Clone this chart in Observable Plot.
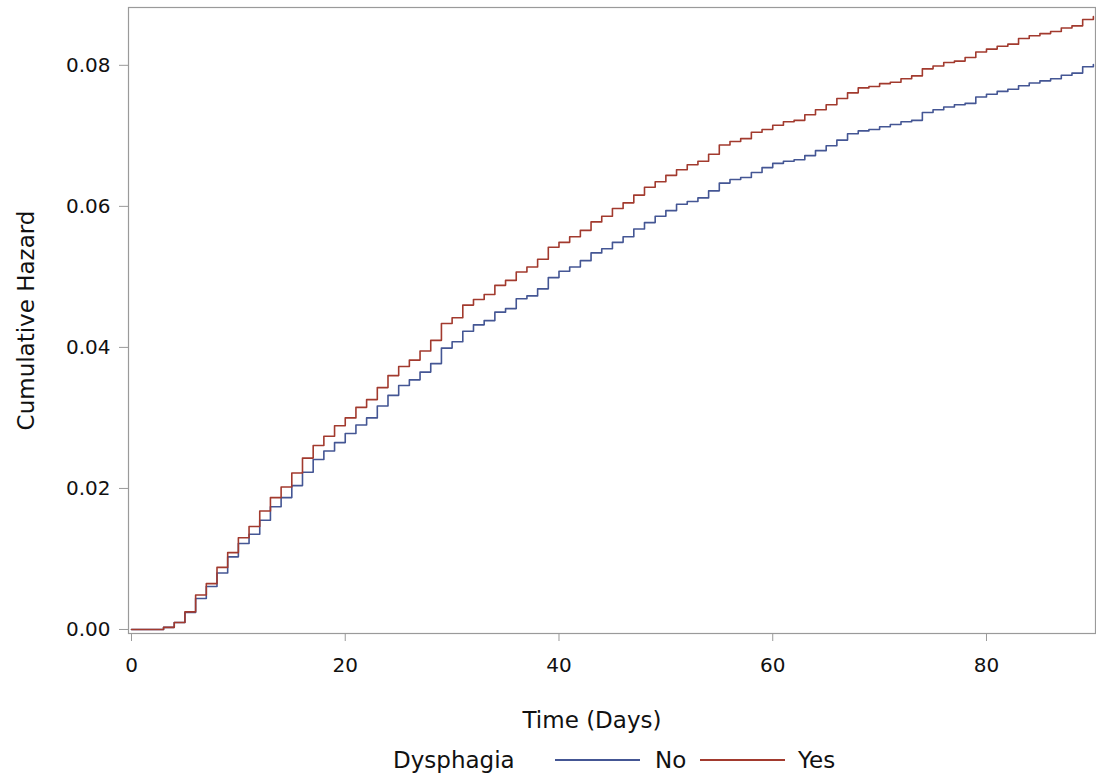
<!DOCTYPE html>
<html>
<head>
<meta charset="utf-8">
<script src="https://cdn.jsdelivr.net/npm/d3@7"></script>
<script src="https://cdn.jsdelivr.net/npm/@observablehq/plot@0.6"></script>
<style>
  html, body { margin: 0; padding: 0; background: #fff; }
  #chart svg { display: block; }
  #legend { position: relative; width: 1096px; height: 40px; font-family: "DejaVu Sans", sans-serif; font-size: 23px; color: #111; }
  #legend .item { position: absolute; top: 0; height: 40px; line-height: 40px; white-space: nowrap; }
  #legend .swatch { position: absolute; top: 19px; width: 85px; height: 2px; }
</style>
</head>
<body>
<div id="chart"></div>
<div id="legend"></div>
<script>
const days = d3.range(0, 91);
const hazardNo = [
  0, 0, 0, 0.0003, 0.0010, 0.0024, 0.0044, 0.0061, 0.0080, 0.0103,
  0.0122, 0.0135, 0.0155, 0.0174, 0.0187, 0.0204, 0.0223, 0.0241, 0.0253, 0.0265,
  0.0278, 0.0290, 0.0300, 0.0317, 0.0332, 0.0346, 0.0354, 0.0365, 0.0377, 0.0399,
  0.0408, 0.0423, 0.0432, 0.0438, 0.0450, 0.0455, 0.0469, 0.0473, 0.0483, 0.0499,
  0.0508, 0.0514, 0.0523, 0.0534, 0.0540, 0.0549, 0.0557, 0.0568, 0.0577, 0.0586,
  0.0594, 0.0603, 0.0607, 0.0612, 0.0622, 0.0633, 0.0638, 0.0641, 0.0648, 0.0655,
  0.0661, 0.0664, 0.0666, 0.0672, 0.0679, 0.0686, 0.0694, 0.0703, 0.0707, 0.0709,
  0.0713, 0.0716, 0.0720, 0.0722, 0.0733, 0.0737, 0.0741, 0.0744, 0.0746, 0.0755,
  0.0759, 0.0763, 0.0766, 0.0771, 0.0775, 0.0778, 0.0781, 0.0786, 0.0789, 0.0798,
  0.0801
];
const hazardYes = [
  0, 0, 0, 0.0003, 0.0010, 0.0025, 0.0049, 0.0065, 0.0088, 0.0109,
  0.0130, 0.0146, 0.0168, 0.0187, 0.0202, 0.0222, 0.0243, 0.0261, 0.0274, 0.0289,
  0.0300, 0.0315, 0.0326, 0.0343, 0.0360, 0.0373, 0.0382, 0.0395, 0.0410, 0.0434,
  0.0442, 0.0460, 0.0468, 0.0475, 0.0488, 0.0495, 0.0507, 0.0514, 0.0525, 0.0542,
  0.0549, 0.0557, 0.0566, 0.0578, 0.0586, 0.0597, 0.0605, 0.0616, 0.0627, 0.0635,
  0.0644, 0.0652, 0.0659, 0.0664, 0.0674, 0.0687, 0.0692, 0.0696, 0.0705, 0.0709,
  0.0715, 0.0720, 0.0722, 0.0730, 0.0737, 0.0744, 0.0753, 0.0761, 0.0768, 0.0770,
  0.0774, 0.0776, 0.0781, 0.0785, 0.0795, 0.0799, 0.0804, 0.0806, 0.0811, 0.0819,
  0.0823, 0.0827, 0.0830, 0.0838, 0.0842, 0.0845, 0.0848, 0.0853, 0.0856, 0.0865,
  0.0869
];
const groups = ["No", "Yes"];
const groupColors = ["#445694", "#A23A2E"];
const xTicks = [0, 20, 40, 60, 80];
const yTicks = [0, 0.02, 0.04, 0.06, 0.08];
const legendTitle = "Dysphagia";
const xLabel = "Time (Days)";
const yLabel = "Cumulative Hazard";

const rows = [];
days.forEach((d, i) => {
  rows.push({day: d, hazard: hazardNo[i], group: groups[0]});
  rows.push({day: d, hazard: hazardYes[i], group: groups[1]});
});

const axisGray = "#9a9a9a";
const chart = Plot.plot({
  width: 1096,
  height: 740,
  marginLeft: 128,
  marginRight: 1,
  marginTop: 7,
  marginBottom: 107,
  style: {fontFamily: "DejaVu Sans, sans-serif", background: "#fff", color: "#111"},
  x: {domain: [-0.28, 90.2]},
  y: {domain: [-0.00057, 0.0882]},
  color: {domain: groups, range: groupColors},
  marks: [
    Plot.frame({stroke: axisGray, strokeWidth: 1.2}),
    Plot.axisX({ticks: xTicks, tickSize: 8, tickPadding: 16, stroke: axisGray, fill: "#111", fontSize: 20, label: null, tickFormat: d3.format("d")}),
    Plot.axisY({ticks: yTicks, tickSize: 9, tickPadding: 9, stroke: axisGray, fill: "#111", fontSize: 20, label: null, tickFormat: d3.format(".2f")}),
    Plot.line(rows, {x: "day", y: "hazard", z: "group", stroke: "group", curve: "step-after", strokeWidth: 1.6}),
    Plot.text([xLabel], {text: d => d, frameAnchor: "bottom", dy: 87, dx: -20, fontSize: 23, textAnchor: "middle", lineAnchor: "middle", fill: "#111"}),
    Plot.text([yLabel], {text: d => d, frameAnchor: "left", dx: -102, rotate: -90, fontSize: 23, textAnchor: "middle", lineAnchor: "middle", fill: "#111"})
  ]
});
document.getElementById("chart").appendChild(chart);

const legend = document.getElementById("legend");
const addItem = (text, left, cls, color) => {
  const el = document.createElement("div");
  el.className = cls;
  el.style.left = left + "px";
  if (text) el.textContent = text;
  if (color) el.style.background = color;
  legend.appendChild(el);
};
addItem(legendTitle, 393, "item");
addItem(null, 555, "swatch", groupColors[0]);
addItem(groups[0], 655, "item");
addItem(null, 700, "swatch", groupColors[1]);
addItem(groups[1], 798, "item");
</script>
</body>
</html>
